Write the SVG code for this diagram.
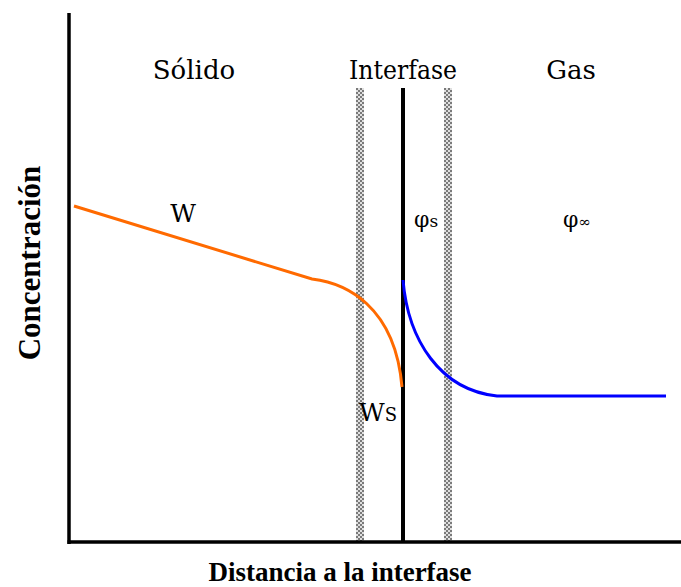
<svg xmlns="http://www.w3.org/2000/svg" width="681" height="587" viewBox="0 0 681 587">
<style>
.t{font-family:"Liberation Serif","Times New Roman",serif;font-weight:bold;fill:#000}
.r{font-family:"DejaVu Serif",serif;font-weight:normal;fill:#000}
</style>
<defs>
<pattern id="hatch" width="4" height="4" patternUnits="userSpaceOnUse">
<rect width="4" height="4" fill="#e0e0e0"/>
<rect width="2" height="2" fill="#7a7a7a"/>
<rect x="2" y="2" width="2" height="2" fill="#7a7a7a"/>
</pattern>
</defs>
<rect width="681" height="587" fill="#fff"/>
<g id="bands" fill="url(#hatch)">
<rect x="356" y="88" width="8" height="453"/>
<rect x="444" y="88" width="8" height="453"/>
</g>
<g id="axes" stroke="#000">
<line x1="69" y1="13" x2="69" y2="544" stroke-width="3.5"/>
<line x1="67.5" y1="542" x2="681" y2="542" stroke-width="3.5"/>
<line x1="403" y1="88" x2="403" y2="542" stroke-width="4"/>
</g>
<g id="connectors" fill="none" stroke-width="3">
<path d="M74,206 L312,279 C345,283 395,305 402,387" stroke="#ff6a00"/>
<path d="M403,280 C408,340 440,390 497,396 L666,396" stroke="#0000ff"/>
</g>
<g id="labels">
<text class="r" x="194" y="79" text-anchor="middle" font-size="26">Sólido</text>
<text class="r" x="403" y="79" text-anchor="middle" font-size="26" textLength="108" lengthAdjust="spacingAndGlyphs">Interfase</text>
<text class="r" x="571" y="79" text-anchor="middle" font-size="26">Gas</text>
<text class="r" x="183" y="222" text-anchor="middle" font-size="25">W</text>
<text class="r" x="414" y="227" font-size="22">φ<tspan font-size="17">s</tspan></text>
<text class="r" x="563" y="227" font-size="22">φ<tspan font-size="15">∞</tspan></text>
<text class="r" x="359" y="421" font-size="25">W<tspan font-size="18">S</tspan></text>
<text class="t" x="340" y="581" text-anchor="middle" font-size="27">Distancia a la interfase</text>
<text class="t" transform="translate(40,263) rotate(-90)" text-anchor="middle" font-size="31">Concentración</text>
</g>
</svg>
